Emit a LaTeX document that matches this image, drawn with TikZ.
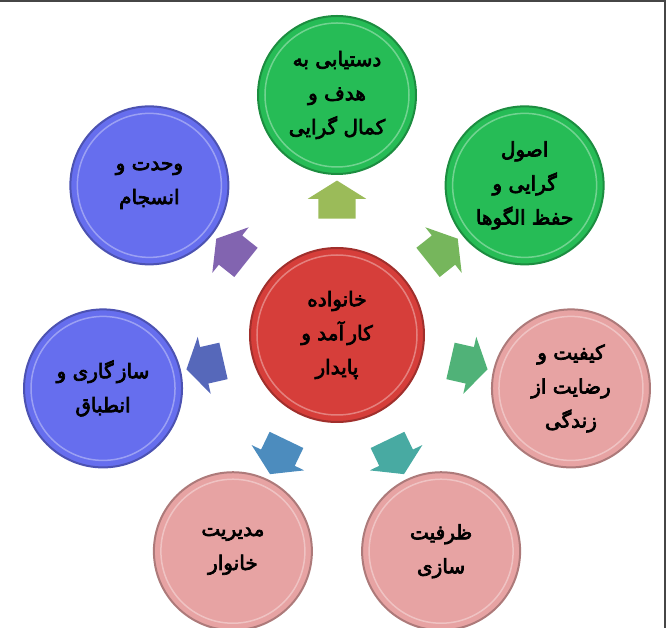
\documentclass[tikz,border=0pt]{standalone}
\usepackage{fontspec}
\newfontfamily\arabicfont[Script=Arabic, FakeBold=3.5]{DejaVu Sans}
\TeXXeTstate=1
\usetikzlibrary{shapes.arrows,calc}

\definecolor{framegray}{RGB}{70,70,70}
\definecolor{redc}{RGB}{214,62,58}
\definecolor{greenc}{RGB}{38,188,86}
\definecolor{pinkc}{RGB}{231,163,163}
\definecolor{bluec}{RGB}{102,110,238}
\definecolor{arr1}{RGB}{155,187,89}
\definecolor{arr2}{RGB}{118,182,92}
\definecolor{arr3}{RGB}{80,178,120}
\definecolor{arr4}{RGB}{72,170,162}
\definecolor{arr5}{RGB}{76,140,190}
\definecolor{arr6}{RGB}{86,104,186}
\definecolor{arr7}{RGB}{130,100,176}

\newcommand\fa[1]{\beginR #1\endR}

\tikzset{
  disc/.style={circle, fill=#1, draw=#1!75!black, line width=2pt,
    minimum size=158pt, inner sep=0pt, align=center,
    font=\arabicfont\fontsize{20}{34}\selectfont},
  blockarrow/.style={single arrow, fill=#1, draw=none,
    inner xsep=0pt, inner ysep=18.5pt, minimum height=38pt,
    single arrow head extend=10.5pt, single arrow tip angle=116},
}

\begin{document}
\begin{tikzpicture}[x=1pt,y=1pt]

  \useasboundingbox (-337,-293) rectangle (329,335);
  \draw[framegray, line width=2pt] (-337,334) -- (328,334) -- (328,-293);

  % center
  \node[disc=redc, minimum size=174pt] (c) at (0,0)
    {\fa{خانواده}\\\fa{کار\,آمد و}\\\fa{پایدار}};

  % outer circles
  \node[disc=greenc] (1) at (90:240)
    {\fa{دستیابی به}\\\fa{هدف و}\\\fa{کمال گرایی}};
  \node[disc=greenc] (2) at (38.57:240)
    {\fa{اصول}\\\fa{گرایی و}\\\fa{حفظ الگوها}};
  \node[disc=pinkc] (3) at (-12.86:240)
    {\fa{کیفیت و}\\\fa{رضایت از}\\\fa{زندگی}};
  \node[disc=pinkc] (4) at (-64.29:240)
    {\fa{ظرفیت}\\\fa{سازی}};
  \node[disc=pinkc] (5) at (-115.71:240)
    {\fa{مدیریت}\\\fa{خانوار}};
  \node[disc=bluec] (6) at (-167.14:240)
    {\fa{ساز\,گاری و}\\\fa{انطباق}};
  \node[disc=bluec] (7) at (141.43:240)
    {\fa{وحدت و}\\\fa{انسجام}};

  % rim highlight
  \draw[white, opacity=.35, line width=1.5pt] (c) circle (80);
  \foreach \i in {1,...,7}
    \draw[white, opacity=.35, line width=1.5pt] (\i) circle (72);

  % arrows
  \foreach \i/\col [evaluate=\i as \ang using 90-(\i-1)*360/7]
      in {1/arr1,2/arr2,3/arr3,4/arr4,5/arr5,6/arr6,7/arr7}
    \node[blockarrow=\col, rotate=\ang] (a\i) at ($(c)!0.54!(\i)$) {};

\end{tikzpicture}
\end{document}
